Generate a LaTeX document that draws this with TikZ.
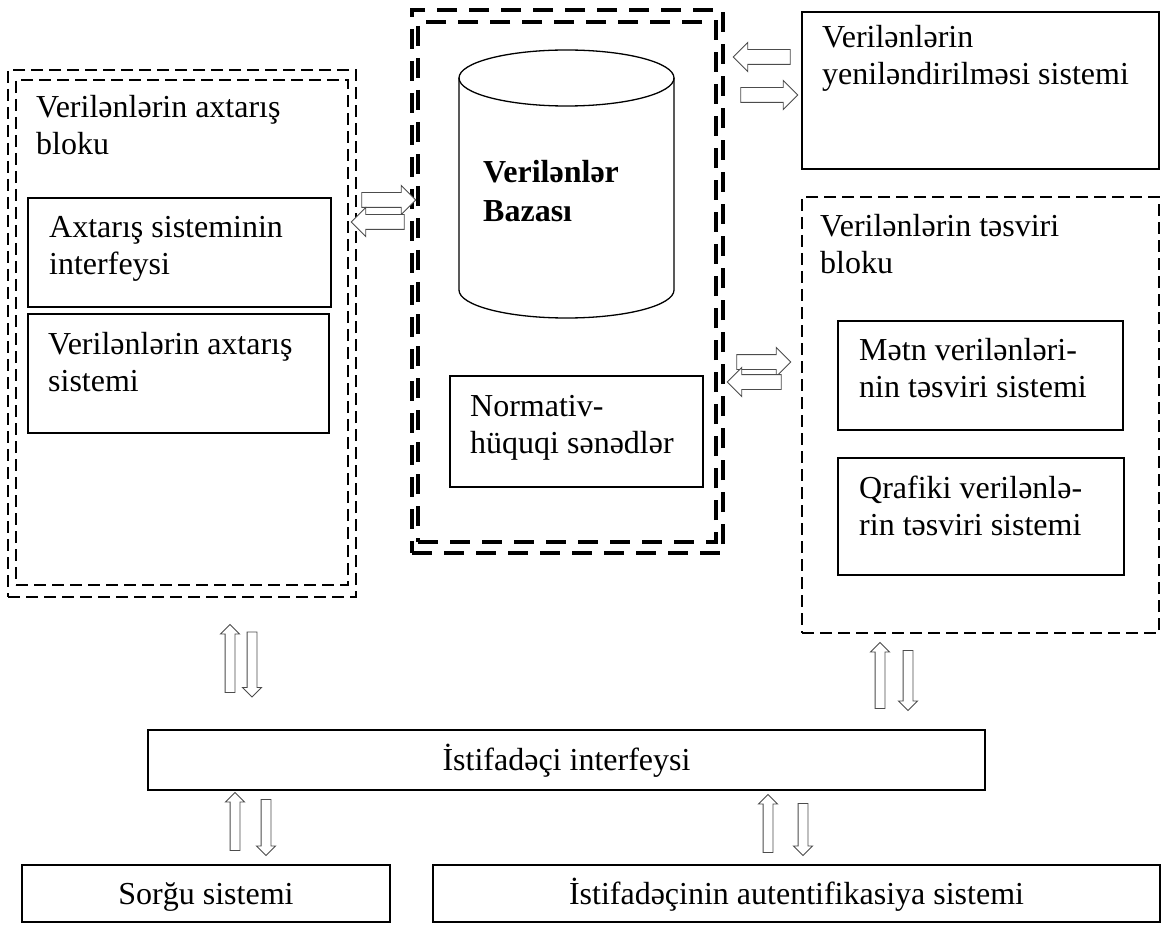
\documentclass[tikz,border=0pt]{standalone}
\usepackage{fontspec}
\setmainfont{Liberation Serif}
\usetikzlibrary{fit,shapes.arrows}

\begin{document}
\begin{tikzpicture}[x=1pt,y=-1pt,font=\fontsize{32}{37}\selectfont,
  box/.style={draw,line width=1.3pt,inner sep=0pt},
  dbox/.style={draw,line width=1.2pt,dash pattern=on 12pt off 6pt,inner sep=0pt},
  tbox/.style={draw,line width=4pt,dash pattern=on 20pt off 12pt,inner sep=0pt},
  lbl/.style={anchor=base west,align=left,inner sep=0pt},
  ctr/.style={anchor=base,inner sep=0pt},
  harrow/.style={single arrow,draw=black!70,fill=white,line width=0.9pt,inner sep=7pt,
    single arrow head extend=7pt,minimum width=0pt,minimum height=#1},
  varrow/.style={single arrow,draw=black!70,fill=white,line width=0.9pt,inner sep=4.5pt,
    single arrow head extend=4.5pt,minimum width=0pt,minimum height=#1}]
  \useasboundingbox (0,0) rectangle (1164,925);
  % search block
  \node[dbox,fit={(8,70)(356,597)}] (srchout) {};
  \node[dbox,fit={(16,80)(348,585)}] (srch) {};
  \node[lbl] (srchT) at (36,155) {Verilənlərin axtarış\\bloku};
  \node[box,fit={(28,198)(331,307)}] (ifc) {};
  \node[lbl] (ifcT) at (49,275) {Axtarış sisteminin\\interfeysi};
  \node[box,fit={(28,314)(329,433)}] (srs) {};
  \node[lbl] (srsT) at (48,391) {Verilənlərin axtarış\\sistemi};
  % database
  \node[tbox,fit={(412,10)(723,553)}] (dbout) {};
  \node[tbox,fit={(418,22)(716,542)}] (dbin) {};
  \draw[line width=1.3pt] (459,78) -- (459,290)
    arc[start angle=180,end angle=360,x radius=107.5pt,y radius=28pt] -- (674,78);
  \draw[line width=1.3pt] (566.5,78) ellipse[x radius=107.5pt,y radius=28pt];
  \node[lbl,font=\fontsize{32}{39}\selectfont\bfseries] (dbT) at (483,222) {Verilənlər\\Bazası};
  \node[box,fit={(450,376)(703,487)}] (norm) {};
  \node[lbl] (normT) at (470,453) {Normativ-\\hüquqi sənədlər};
  % update system
  \node[box,fit={(802,12)(1159,169)}] (upd) {};
  \node[lbl] (updT) at (822,85) {Verilənlərin\\yeniləndirilməsi sistemi};
  % view block
  \node[dbox,fit={(802,197)(1159,633)}] (view) {};
  \node[lbl] (viewT) at (820,274) {Verilənlərin təsviri\\bloku};
  \node[box,fit={(838,321)(1123,430)}] (txt) {};
  \node[lbl] (txtT) at (859,397) {Mətn verilənləri-\\nin təsviri sistemi};
  \node[box,fit={(838,458)(1124,575)}] (gfx) {};
  \node[lbl] (gfxT) at (859,535) {Qrafiki verilənlə-\\rin təsviri sistemi};
  % bottom row
  \node[box,fit={(148,730)(985,790)}] (ui) {};
  \node[ctr] (uiT) at (566.5,770) {İstifadəçi interfeysi};
  \node[box,fit={(22,865)(390,922)}] (qry) {};
  \node[ctr] (qryT) at (206,904) {Sorğu sistemi};
  \node[box,fit={(433,865)(1160,922)}] (auth) {};
  \node[ctr] (authT) at (796.5,904) {İstifadəçinin autentifikasiya sistemi};
  % block arrows
  \foreach \n/\x/\y/\l/\r in {a1/385/200/54/0, a2/381.5/222/53/180, a3/765.5/57/57/180,
      a4/765.5/95/57/0, a5/760/362/54/0, a6/758/382/54/180}
    \node[harrow=\l,rotate=\r] (\n) at (\x,\y) {};
  \foreach \n/\x/\y/\l/\r in {a7/230/661/68/90, a8/252/662/65/-90, a9/880/678/66/90,
      a10/908/678/60/-90, a11/235/824/58/90, a12/266/825/56/-90, a13/768/826/58/90,
      a14/803/827/52/-90}
    \node[varrow=\l,rotate=\r] (\n) at (\x,\y) {};
\end{tikzpicture}
\end{document}
